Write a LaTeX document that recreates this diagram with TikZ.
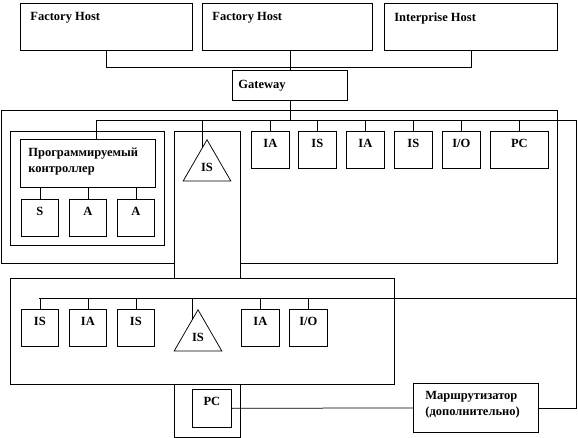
\documentclass[tikz,border=0pt]{standalone}
\usepackage{fontspec}
\setmainfont{Liberation Serif}
\usepackage{tikz}
\usetikzlibrary{shapes}
\usetikzlibrary{calc}
\tikzset{
	plain box/.style={draw,fill=white,inner sep=0pt,anchor=north west},
	host node/.style={plain box,minimum height=47pt,
		label={[anchor=north west,inner sep=0pt,xshift=10pt,yshift=-9pt]north west:#1}},
	dev node/.style={plain box,minimum width=38pt,minimum height=37pt,
		label={[anchor=north,inner sep=0pt,yshift=-8pt]north:#1}},
	tri node/.style={draw,fill=white,regular polygon,regular polygon sides=3,
		minimum size=55pt,inner sep=0pt,anchor=corner 1}
}
\begin{document}
\begin{tikzpicture}[x=1pt,y=-1pt,line width=0.75pt
		,font=\bfseries\fontsize{12.5}{16}\selectfont
	]
	\useasboundingbox (0,0) rectangle (578,438);
	% hosts
	\node [host node=Factory Host,minimum width=172pt] (h1) at (20,3) {};
	\node [host node=Factory Host,minimum width=170pt] (h2) at (202,3) {};
	\node [host node=Interprise Host,minimum width=173pt] (h3) at (384,3) {};
	\node [plain box,minimum width=115pt,minimum height=30pt,text width=103pt,
		inner xsep=6pt,align=left] (gw) at (232,70) {Gateway};
	% upper segment
	\node [plain box,minimum width=556pt,minimum height=153pt] (seg1) at (1,110) {};
	\node [plain box,minimum width=154pt,minimum height=114pt] (grp) at (10,131) {};
	\node [plain box,minimum width=135pt,minimum height=48pt,
		label={[anchor=north west,inner sep=0pt,xshift=8pt,yshift=-9pt,align=left]north west:Программируемый\\контроллер}] (ctrl) at (20,139) {};
	\node [dev node=S,minimum width=37pt] (s1) at (21,199) {};
	\node [dev node=A,minimum width=37pt] (a1) at (69,199) {};
	\node [dev node=A,minimum width=37pt] (a2) at (117,199) {};
	\node [dev node=IA] (ia1) at (251,131) {};
	\node [dev node=IS] (is1) at (298,131) {};
	\node [dev node=IA] (ia2) at (346,131) {};
	\node [dev node=IS] (is2) at (394,131) {};
	\node [dev node=I/O] (io1) at (442,131) {};
	\node [dev node=PC,minimum width=58pt] (pc1) at (490,131) {};
	\node [plain box,minimum width=66pt,minimum height=306pt] (strip) at (174,131) {};
	\node [tri node] (tri1) at (207,139) {IS};
	% lower segment
	\node [plain box,minimum width=384pt,minimum height=106pt] (seg2) at (10,278) {};
	\node [dev node=IS,minimum width=37pt] (is3) at (21,309) {};
	\node [dev node=IA,minimum width=37pt] (ia3) at (69,309) {};
	\node [dev node=IS,minimum width=37pt] (is4) at (117,309) {};
	\node [tri node] (tri2) at (198,309) {IS};
	\node [dev node=IA] (ia4) at (241,309) {};
	\node [dev node=I/O] (io2) at (289,309) {};
	\node [dev node=PC,minimum width=39pt,minimum height=38pt] (pc2) at (192,389) {};
	\node [plain box,minimum width=125pt,minimum height=49pt,
		label={[anchor=north west,inner sep=0pt,xshift=12pt,yshift=-8pt,align=left]north west:Маршрутизатор\\(дополнительно)}] (rt) at (413,383) {};
	% buses
	\coordinate (b1) at (96,120);
	\coordinate (ne) at (576,120);
	\coordinate (b2) at (39,298);
	\coordinate (t1) at ($(tri1.corner 1)!0.2!(tri1.corner 2)$);
	\coordinate (t2) at ($(tri2.corner 1)!0.25!(tri2.corner 2)$);
	\draw (h1.south) -- ++(0,17) -| (h3.south);
	\draw (gw.north) -- (gw.north |- h2.south);
	\draw (gw.south) -- (gw.south |- b1);
	\draw (b1 |- ctrl.north) -- (b1) -- (ne) |- (rt.east);
	\draw (t1) -- (t1 |- b1);
	\foreach \d in {ia1,is1,ia2,is2,io1,pc1}
		\draw (\d.north) -- (\d.north |- b1);
	\foreach \d in {s1,a1,a2}
		\draw (\d.north) -- (\d.north |- ctrl.south);
	\draw (b2) -- (b2 -| ne);
	\draw (t2) -- (t2 |- b2);
	\foreach \d in {is3,ia3,is4,ia4,io2}
		\draw (\d.north) -- (\d.north |- b2);
	\draw (pc2.east) -- (rt.west);
\end{tikzpicture}
\end{document}
